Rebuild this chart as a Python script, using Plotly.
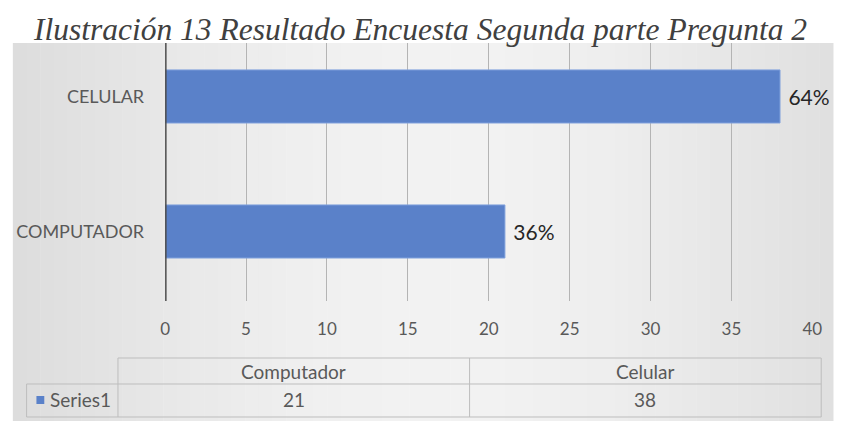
import plotly.graph_objects as go

# ---- data ----
categories = ["COMPUTADOR", "CELULAR"]
table_headers = ["Computador", "Celular"]
series_name = "Series1"
values = [21, 38]
x_ticks = [0, 5, 10, 15, 20, 25, 30, 35, 40]
title_text = "Ilustración 13 Resultado Encuesta Segunda parte Pregunta 2"

total = sum(values)
pct_labels = ["\u00a0" + f"{round(v / total * 100)}%" for v in values]

W, H = 843, 421
BLUE = "#5a81c9"
TXT = "#595959"
GRID = "#b4b4b4"
BORDER = "#bdbdbd"
FONT = "Lato, Open Sans, sans-serif"


def px(x):
    return x / W


def py(y):
    return 1 - y / H


fig = go.Figure()
fig.add_trace(go.Bar(
    y=categories, x=values, orientation="h",
    marker=dict(color=BLUE, line=dict(color="#7fa0dc", width=1)),
    width=0.393,
    text=pct_labels, textposition="outside",
    textfont=dict(family=FONT, size=21, color="#262626"),
    cliponaxis=False, showlegend=False, hoverinfo="skip",
))

shapes = []
# background gradient (strips)
n = 60
x0b, x1b = 8, W
for i in range(n):
    xa = x0b + (x1b - x0b) * i / n
    xb = x0b + (x1b - x0b) * (i + 1) / n + 0.5
    t = (i + 0.5) / n
    d = abs(t - 0.52) / 0.52
    c = int(243 - 22 * d ** 1.6)
    shapes.append(dict(type="rect", xref="paper", yref="paper",
                       x0=px(xa), x1=px(xb), y0=py(421), y1=py(43),
                       fillcolor=f"rgb({c},{c},{c})", line=dict(width=0), layer="below"))

# table lines
tl, tm, tr = 115, 473, 831
tfirst = 22
ty0, ty1, ty2 = 358, 384, 417
line = dict(color=BORDER, width=1)
shapes += [
    dict(type="line", xref="paper", yref="paper", x0=px(tl), x1=px(tr), y0=py(ty0), y1=py(ty0), line=line),
    dict(type="line", xref="paper", yref="paper", x0=px(tfirst), x1=px(tr), y0=py(ty1), y1=py(ty1), line=line),
    dict(type="line", xref="paper", yref="paper", x0=px(tfirst), x1=px(tr), y0=py(ty2), y1=py(ty2), line=line),
    dict(type="line", xref="paper", yref="paper", x0=px(tl), x1=px(tl), y0=py(ty0), y1=py(ty2), line=line),
    dict(type="line", xref="paper", yref="paper", x0=px(tm), x1=px(tm), y0=py(ty0), y1=py(ty2), line=line),
    dict(type="line", xref="paper", yref="paper", x0=px(tr), x1=px(tr), y0=py(ty0), y1=py(ty2), line=line),
    dict(type="line", xref="paper", yref="paper", x0=px(tfirst), x1=px(tfirst), y0=py(ty1), y1=py(ty2), line=line),
    # legend key square
    dict(type="rect", xref="paper", yref="paper", x0=px(32), x1=px(40), y0=py(404), y1=py(396),
         fillcolor=BLUE, line=dict(width=0)),
]
# axis line at x=0
shapes.append(dict(type="line", xref="x", yref="paper", x0=0, x1=0,
                   y0=py(301), y1=py(43), line=dict(color="#4d4d4d", width=3)))

annotations = []
annotations.append(dict(text=f"<i>{title_text}</i>", xref="paper", yref="paper",
                        x=px(423), y=py(29), xanchor="center", yanchor="middle", showarrow=False,
                        font=dict(family="Liberation Serif, Times New Roman, serif", size=31.5, color="#404040")))
fontT = dict(family=FONT, size=19, color=TXT)
cols = [(tl + tm) / 2, (tm + tr) / 2]
for cx, hdr, v in zip(cols, table_headers, values):
    annotations.append(dict(text=hdr, xref="paper", yref="paper", x=px(cx), y=py((ty0 + ty1) / 2),
                            xanchor="center", yanchor="middle", showarrow=False, font=fontT))
    annotations.append(dict(text=str(v), xref="paper", yref="paper", x=px(cx), y=py(399),
                            xanchor="center", yanchor="middle", showarrow=False, font=fontT))
annotations.append(dict(text=series_name, xref="paper", yref="paper", x=px(44), y=py(399),
                        xanchor="left", yanchor="middle", showarrow=False, font=fontT))

fig.update_layout(
    width=W, height=H, autosize=False,
    margin=dict(l=0, r=0, t=0, b=0),
    paper_bgcolor="white", plot_bgcolor="rgba(0,0,0,0)",
    shapes=shapes, annotations=annotations,
    xaxis=dict(domain=[px(163), px(822)], range=[0, 40], tickvals=x_ticks,
               showgrid=True, gridcolor=GRID, gridwidth=1, zeroline=False,
               showline=False, ticks="", ticklabelstandoff=16,
               tickfont=dict(family=FONT, size=17, color=TXT)),
    yaxis=dict(domain=[py(301), py(43)], range=[-0.515, 1.396],
               showgrid=False, zeroline=False, showline=False, ticks="",
               ticklabelstandoff=20,
               tickfont=dict(family=FONT, size=18, color=TXT)),
    bargap=0.6,
)

fig.write_html("out.html",
               config={"displayModeBar": False, "responsive": False},
               post_script="document.body.style.margin='0';document.body.style.overflow='hidden';")
